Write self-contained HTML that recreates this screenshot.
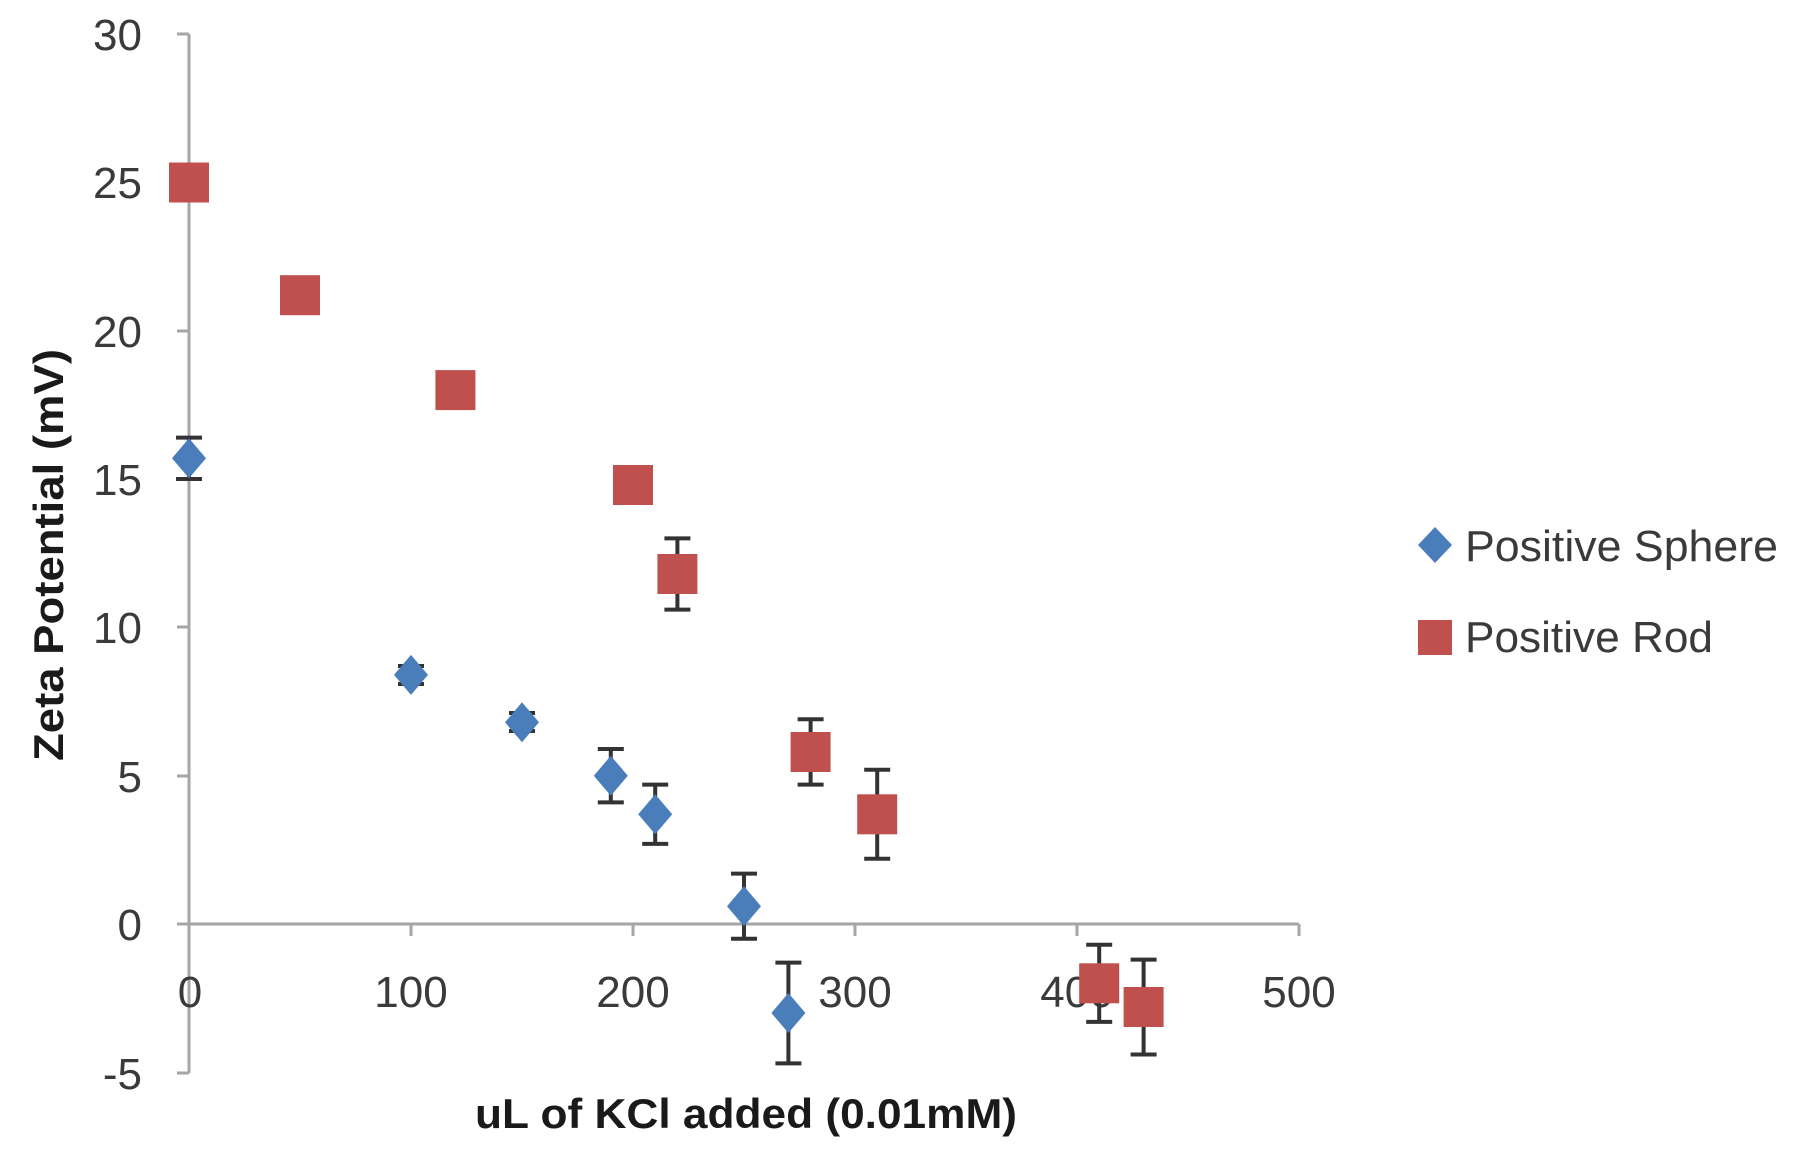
<!DOCTYPE html>
<html><head><meta charset="utf-8"><style>
html,body{margin:0;padding:0;background:#fff;}
svg{display:block;}
text{font-family:"Liberation Sans",sans-serif;fill:#3a3a3a;}
</style></head><body>
<svg width="1795" height="1162" viewBox="0 0 1795 1162" xmlns="http://www.w3.org/2000/svg">
<g stroke="#a6a6a6" stroke-width="3" fill="none">
<line x1="189" y1="34" x2="189" y2="1073"/>
<line x1="189" y1="924" x2="1299" y2="924"/>
<line x1="177" y1="34" x2="189" y2="34"/>
<line x1="177" y1="182.5" x2="189" y2="182.5"/>
<line x1="177" y1="331" x2="189" y2="331"/>
<line x1="177" y1="479" x2="189" y2="479"/>
<line x1="177" y1="627" x2="189" y2="627"/>
<line x1="177" y1="776" x2="189" y2="776"/>
<line x1="177" y1="924" x2="189" y2="924"/>
<line x1="177" y1="1073" x2="189" y2="1073"/>
<line x1="411" y1="924" x2="411" y2="936"/>
<line x1="633" y1="924" x2="633" y2="936"/>
<line x1="855" y1="924" x2="855" y2="936"/>
<line x1="1077" y1="924" x2="1077" y2="936"/>
<line x1="1299" y1="924" x2="1299" y2="936"/>
</g>
<g font-size="44" text-anchor="end">
<text x="142" y="50">30</text>
<text x="142" y="198">25</text>
<text x="142" y="347">20</text>
<text x="142" y="495">15</text>
<text x="142" y="643">10</text>
<text x="142" y="792">5</text>
<text x="142" y="940">0</text>
<text x="142" y="1089">-5</text>
</g>
<g font-size="44" text-anchor="middle">
<text x="190" y="1007">0</text>
<text x="411" y="1007">100</text>
<text x="633" y="1007">200</text>
<text x="855" y="1007">300</text>
<text x="1077" y="1007">400</text>
<text x="1299" y="1007">500</text>
</g>
<text x="475" y="1128" font-size="42" font-weight="bold" fill="#1a1a1a" textLength="542" lengthAdjust="spacingAndGlyphs" style="fill:#1a1a1a">uL of KCl added (0.01mM)</text>
<text transform="translate(63,761) rotate(-90)" font-size="42" font-weight="bold" textLength="412" lengthAdjust="spacingAndGlyphs" style="fill:#1a1a1a">Zeta Potential (mV)</text>

<g stroke="#333" stroke-width="4" fill="none">
<!-- sphere errors -->
<path d="M189 437.6V479M176 437.6h26M176 479h26"/>
<path d="M411 666V684M398 666h26M398 684h26"/>
<path d="M522 713V731M509 713h26M509 731h26"/>
<path d="M610.8 749V802.4M597.8 749h26M597.8 802.4h26"/>
<path d="M655.2 784.6V843.9M642.2 784.6h26M642.2 843.9h26"/>
<path d="M744 873.6V938.8M731 873.6h26M731 938.8h26"/>
<path d="M788.4 962.6V1063.4M775.4 962.6h26M775.4 1063.4h26"/>
<!-- rod errors -->
<path d="M633 467.2V502.8M620 467.2h26M620 502.8h26"/>
<path d="M677.4 538.4V609.6M664.4 538.4h26M664.4 609.6h26"/>
<path d="M810.6 719.3V784.6M797.6 719.3h26M797.6 784.6h26"/>
<path d="M877.2 769.8V858.7M864.2 769.8h26M864.2 858.7h26"/>
<path d="M1099.2 944.8V1021.9M1086.2 944.8h26M1086.2 1021.9h26"/>
<path d="M1143.6 959.6V1054.5M1130.6 959.6h26M1130.6 1054.5h26"/>
</g>
<g fill="#4a7ebb">
<path d="M189 438.3l17 20-17 20-17-20z"/>
<path d="M411 654.9l17 20-17 20-17-20z"/>
<path d="M522 702.3l17 20-17 20-17-20z"/>
<path d="M610.8 755.7l17 20-17 20-17-20z"/>
<path d="M655.2 794.3l17 20-17 20-17-20z"/>
<path d="M744 886.2l17 20-17 20-17-20z"/>
<path d="M788.4 993l17 20-17 20-17-20z"/>
<path d="M1435 527l17 18-17 18-17-18z"/>
</g>
<g fill="#c0504d">
<rect x="169" y="162.5" width="40" height="40"/>
<rect x="280" y="275.2" width="40" height="40"/>
<rect x="435.4" y="370.1" width="40" height="40"/>
<rect x="613" y="465" width="40" height="40"/>
<rect x="657.4" y="554" width="40" height="40"/>
<rect x="790.6" y="732" width="40" height="40"/>
<rect x="857.2" y="794.3" width="40" height="40"/>
<rect x="1079.2" y="963.3" width="40" height="40"/>
<rect x="1123.6" y="987" width="40" height="40"/>
<rect x="1418" y="620" width="34" height="35"/>
</g>
<text x="1465" y="561" font-size="44" textLength="313" lengthAdjust="spacingAndGlyphs">Positive Sphere</text>
<text x="1465" y="652" font-size="44" textLength="248" lengthAdjust="spacingAndGlyphs">Positive Rod</text>
</svg>
</body></html>
